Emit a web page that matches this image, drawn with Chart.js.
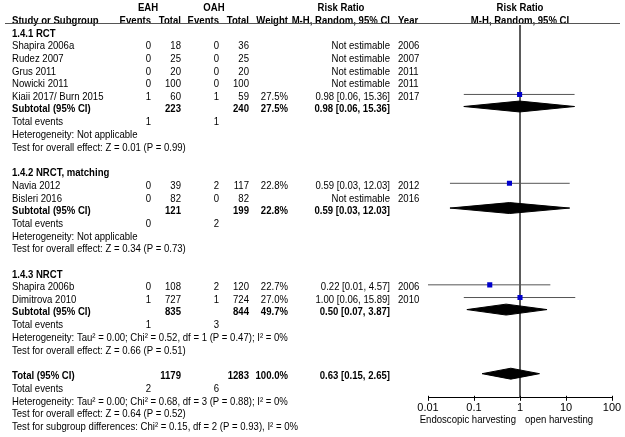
<!DOCTYPE html>
<html>
<head>
<meta charset="utf-8">
<script src="https://cdn.jsdelivr.net/npm/chart.js@4.4.0/dist/chart.umd.min.js"></script>
<style>
html,body{margin:0;padding:0;background:#fff;}
#wrap{width:625px;height:437px;position:relative;}
</style>
</head>
<body>
<div id="wrap"><canvas id="forest"></canvas></div>
<script>

// ---- studies ----
const studyNames = ["Shapira 2006a","Rudez 2007","Grus 2011","Nowicki 2011","Kiaii 2017/ Burn 2015","Navia 2012","Bisleri 2016","Shapira 2006b","Dimitrova 2010"];
const studyRows = [1,2,3,4,5,12,13,20,21];
const eahEvents = [0,0,0,0,1,0,0,0,1];
const eahTotal = [18,25,20,100,60,39,82,108,727];
const oahEvents = [0,0,0,0,1,2,0,2,1];
const oahTotal = [36,25,20,100,59,117,82,120,724];
const studyWeight = [null,null,null,null,27.5,22.8,null,22.7,27.0];
const studyRR = [null,null,null,null,0.98,0.59,null,0.22,1.00];
const studyLow = [null,null,null,null,0.06,0.03,null,0.01,0.06];
const studyHigh = [null,null,null,null,15.36,12.03,null,4.57,15.89];
const studyYear = [2006,2007,2011,2011,2017,2012,2016,2006,2010];

// ---- subgroups ----
const subNames = ["1.4.1 RCT","1.4.2 NRCT, matching","1.4.3 NRCT"];
const subHeadRows = [0,11,19];
const subRows = [5.95,13.95,21.95];
const subEAHTotal = [223,121,835];
const subOAHTotal = [240,199,844];
const subEAHEvents = [1,0,1];
const subOAHEvents = [1,2,3];
const subWeight = [27.5,22.8,49.7];
const subRR = [0.98,0.59,0.50];
const subLow = [0.06,0.03,0.07];
const subHigh = [15.36,12.03,3.87];
const subHet = [
  "Heterogeneity: Not applicable",
  "Heterogeneity: Not applicable",
  "Heterogeneity: Tau\u00b2 = 0.00; Chi\u00b2 = 0.52, df = 1 (P = 0.47); I\u00b2 = 0%"
];
const subTest = [
  "Test for overall effect: Z = 0.01 (P = 0.99)",
  "Test for overall effect: Z = 0.34 (P = 0.73)",
  "Test for overall effect: Z = 0.66 (P = 0.51)"
];

// ---- overall ----
const totalRow = 27;
const totalEAH = 1179;
const totalOAH = 1283;
const totalWeight = 100.0;
const totalRR = 0.63;
const totalLow = 0.15;
const totalHigh = 2.65;
const totalEAHEvents = 2;
const totalOAHEvents = 6;
const totalHet = "Heterogeneity: Tau\u00b2 = 0.00; Chi\u00b2 = 0.68, df = 3 (P = 0.88); I\u00b2 = 0%";
const totalTest = "Test for overall effect: Z = 0.64 (P = 0.52)";
const subgroupTest = "Test for subgroup differences: Chi\u00b2 = 0.15, df = 2 (P = 0.93), I\u00b2 = 0%";

const tickValues = [0.01,0.1,1,10,100];
const tickLabels = ["0.01","0.1","1","10","100"];
const favourLeft = "Endoscopic harvesting";
const favourRight = "open harvesting";

// row range shown in the plot panel
const yMin = -0.472;
const yMax = 28.9;
const diamondHalf = 0.43;

const FONT = '"Liberation Sans", Arial, sans-serif';
const SQUEEZE = 0.87;

function fmtCI(rr,lo,hi){
  return rr.toFixed(2) + " [" + lo.toFixed(2) + ", " + hi.toFixed(2) + "]";
}

function diamond(rr,lo,hi,row){
  return {
    data:[
      {x:lo,y:row},
      {x:rr,y:row-diamondHalf},
      {x:hi,y:row},
      {x:rr,y:row+diamondHalf},
      {x:lo,y:row}
    ],
    showLine:true,
    borderColor:'#000',
    backgroundColor:'#000',
    borderWidth:1,
    pointRadius:0,
    tension:0,
    fill:'shape'
  };
}

const datasets = [];

// squares
const squares = [];
studyRR.forEach((rr,i)=>{
  if(rr !== null) squares.push({x:rr,y:studyRows[i]});
});
datasets.push({
  data:squares,
  pointStyle:'rect',
  pointRadius:3.6,
  backgroundColor:'#0000cc',
  borderColor:'#0000cc',
  borderWidth:0,
  showLine:false
});

// diamonds
subRR.forEach((rr,i)=>{
  datasets.push(diamond(rr,subLow[i],subHigh[i],subRows[i]));
});
datasets.push(diamond(totalRR,totalLow,totalHigh,totalRow));

// confidence interval lines
studyRR.forEach((rr,i)=>{
  if(rr === null) return;
  datasets.push({
    data:[{x:studyLow[i],y:studyRows[i]},{x:studyHigh[i],y:studyRows[i]}],
    showLine:true,
    borderColor:'#555',
    borderWidth:1,
    pointRadius:0
  });
});

// line of no effect
datasets.push({
  data:[{x:1,y:yMin},{x:1,y:yMax}],
  showLine:true,
  borderColor:'#444',
  borderWidth:1,
  pointRadius:0
});

const tablePlugin = {
  id:'table',
  afterDraw(chart){

    const ctx = chart.ctx;
    const ys = chart.scales.y;
    const xs = chart.scales.x;

    function put(s,x,y,align,bold){
      ctx.save();
      ctx.font = (bold ? 'bold ' : '') + '11px ' + FONT;
      ctx.textAlign = align || 'left';
      ctx.translate(x,y);
      ctx.scale(SQUEEZE,1);
      ctx.fillText(s,0,0);
      ctx.restore();
    }

    function txt(s,x,r,align,bold){
      put(s,x,ys.getPixelForValue(r) + 2.5,align,bold);
    }

    ctx.save();
    ctx.fillStyle = '#000';
    ctx.textBaseline = 'middle';

    // headers
    txt("EAH",148,-2,'center',true);
    txt("OAH",214,-2,'center',true);
    txt("Risk Ratio",341,-2,'center',true);
    txt("Risk Ratio",520,-2,'center',true);

    txt("Study or Subgroup",12,-1,'left',true);
    txt("Events",151,-1,'right',true);
    txt("Total",181,-1,'right',true);
    txt("Events",219,-1,'right',true);
    txt("Total",249,-1,'right',true);
    txt("Weight",288,-1,'right',true);
    txt("M-H, Random, 95% CI",390,-1,'right',true);
    txt("Year",398,-1,'left',true);
    txt("M-H, Random, 95% CI",520,-1,'center',true);

    // studies
    studyNames.forEach((name,i)=>{
      const r = studyRows[i];
      txt(name,12,r);
      txt(String(eahEvents[i]),151,r,'right');
      txt(String(eahTotal[i]),181,r,'right');
      txt(String(oahEvents[i]),219,r,'right');
      txt(String(oahTotal[i]),249,r,'right');
      if(studyWeight[i] !== null) txt(studyWeight[i].toFixed(1)+"%",288,r,'right');
      txt(studyRR[i] === null ? "Not estimable" : fmtCI(studyRR[i],studyLow[i],studyHigh[i]),390,r,'right');
      txt(String(studyYear[i]),398,r,'left');
    });

    // subgroups
    subNames.forEach((name,i)=>{
      txt(name,12,subHeadRows[i],'left',true);
      const r = subRows[i];
      txt("Subtotal (95% CI)",12,r,'left',true);
      txt(String(subEAHTotal[i]),181,r,'right',true);
      txt(String(subOAHTotal[i]),249,r,'right',true);
      txt(subWeight[i].toFixed(1)+"%",288,r,'right',true);
      txt(fmtCI(subRR[i],subLow[i],subHigh[i]),390,r,'right',true);
      const e = Math.round(r) + 1;
      txt("Total events",12,e);
      txt(String(subEAHEvents[i]),151,e,'right');
      txt(String(subOAHEvents[i]),219,e,'right');
      txt(subHet[i],12,e+1);
      txt(subTest[i],12,e+2);
    });

    // overall
    txt("Total (95% CI)",12,totalRow,'left',true);
    txt(String(totalEAH),181,totalRow,'right',true);
    txt(String(totalOAH),249,totalRow,'right',true);
    txt(totalWeight.toFixed(1)+"%",288,totalRow,'right',true);
    txt(fmtCI(totalRR,totalLow,totalHigh),390,totalRow,'right',true);
    txt("Total events",12,totalRow+1);
    txt(String(totalEAHEvents),151,totalRow+1,'right');
    txt(String(totalOAHEvents),219,totalRow+1,'right');
    txt(totalHet,12,totalRow+2);
    txt(totalTest,12,totalRow+3);
    txt(subgroupTest,12,totalRow+4);

    // header rule
    ctx.strokeStyle = '#555';
    ctx.lineWidth = 1;
    ctx.beginPath();
    ctx.moveTo(5,chart.chartArea.top - 1.5);
    ctx.lineTo(620,chart.chartArea.top - 1.5);
    ctx.stroke();

    // tick marks also rise a little above the axis line
    const axisY = chart.chartArea.bottom;
    ctx.strokeStyle = '#000';
    ctx.beginPath();
    tickValues.forEach(v=>{
      const px = Math.round(xs.getPixelForValue(v)) + 0.5;
      ctx.moveTo(px,axisY - 2);
      ctx.lineTo(px,axisY);
    });
    ctx.stroke();

    // favours labels
    const x1 = xs.getPixelForValue(1);
    put(favourLeft,x1-4,420,'right');
    put(favourRight,x1+5,420,'left');

    ctx.restore();
  }
};

new Chart(document.getElementById('forest'),{
  type:'scatter',
  data:{datasets:datasets},
  options:{
    responsive:true,
    maintainAspectRatio:false,
    animation:false,
    events:[],
    layout:{padding:{left:428,right:13,top:25,bottom:21}},
    plugins:{
      legend:{display:false},
      tooltip:{enabled:false}
    },
    scales:{
      x:{
        type:'logarithmic',
        min:0.01,
        max:100,
        afterBuildTicks:s=>{ s.ticks = tickValues.map(v=>({value:v})); },
        ticks:{
          callback:v=>{ const i = tickValues.indexOf(v); return i < 0 ? '' : tickLabels[i]; },
          color:'#000',
          font:{family:FONT,size:11},
          padding:1,
          autoSkip:false,
          maxRotation:0
        },
        grid:{drawOnChartArea:false,drawTicks:true,tickLength:3,color:'#000'},
        border:{color:'#000'}
      },
      y:{
        type:'linear',
        reverse:true,
        min:yMin,
        max:yMax,
        display:false
      }
    }
  },
  plugins:[tablePlugin]
});

</script>
</body>
</html>
